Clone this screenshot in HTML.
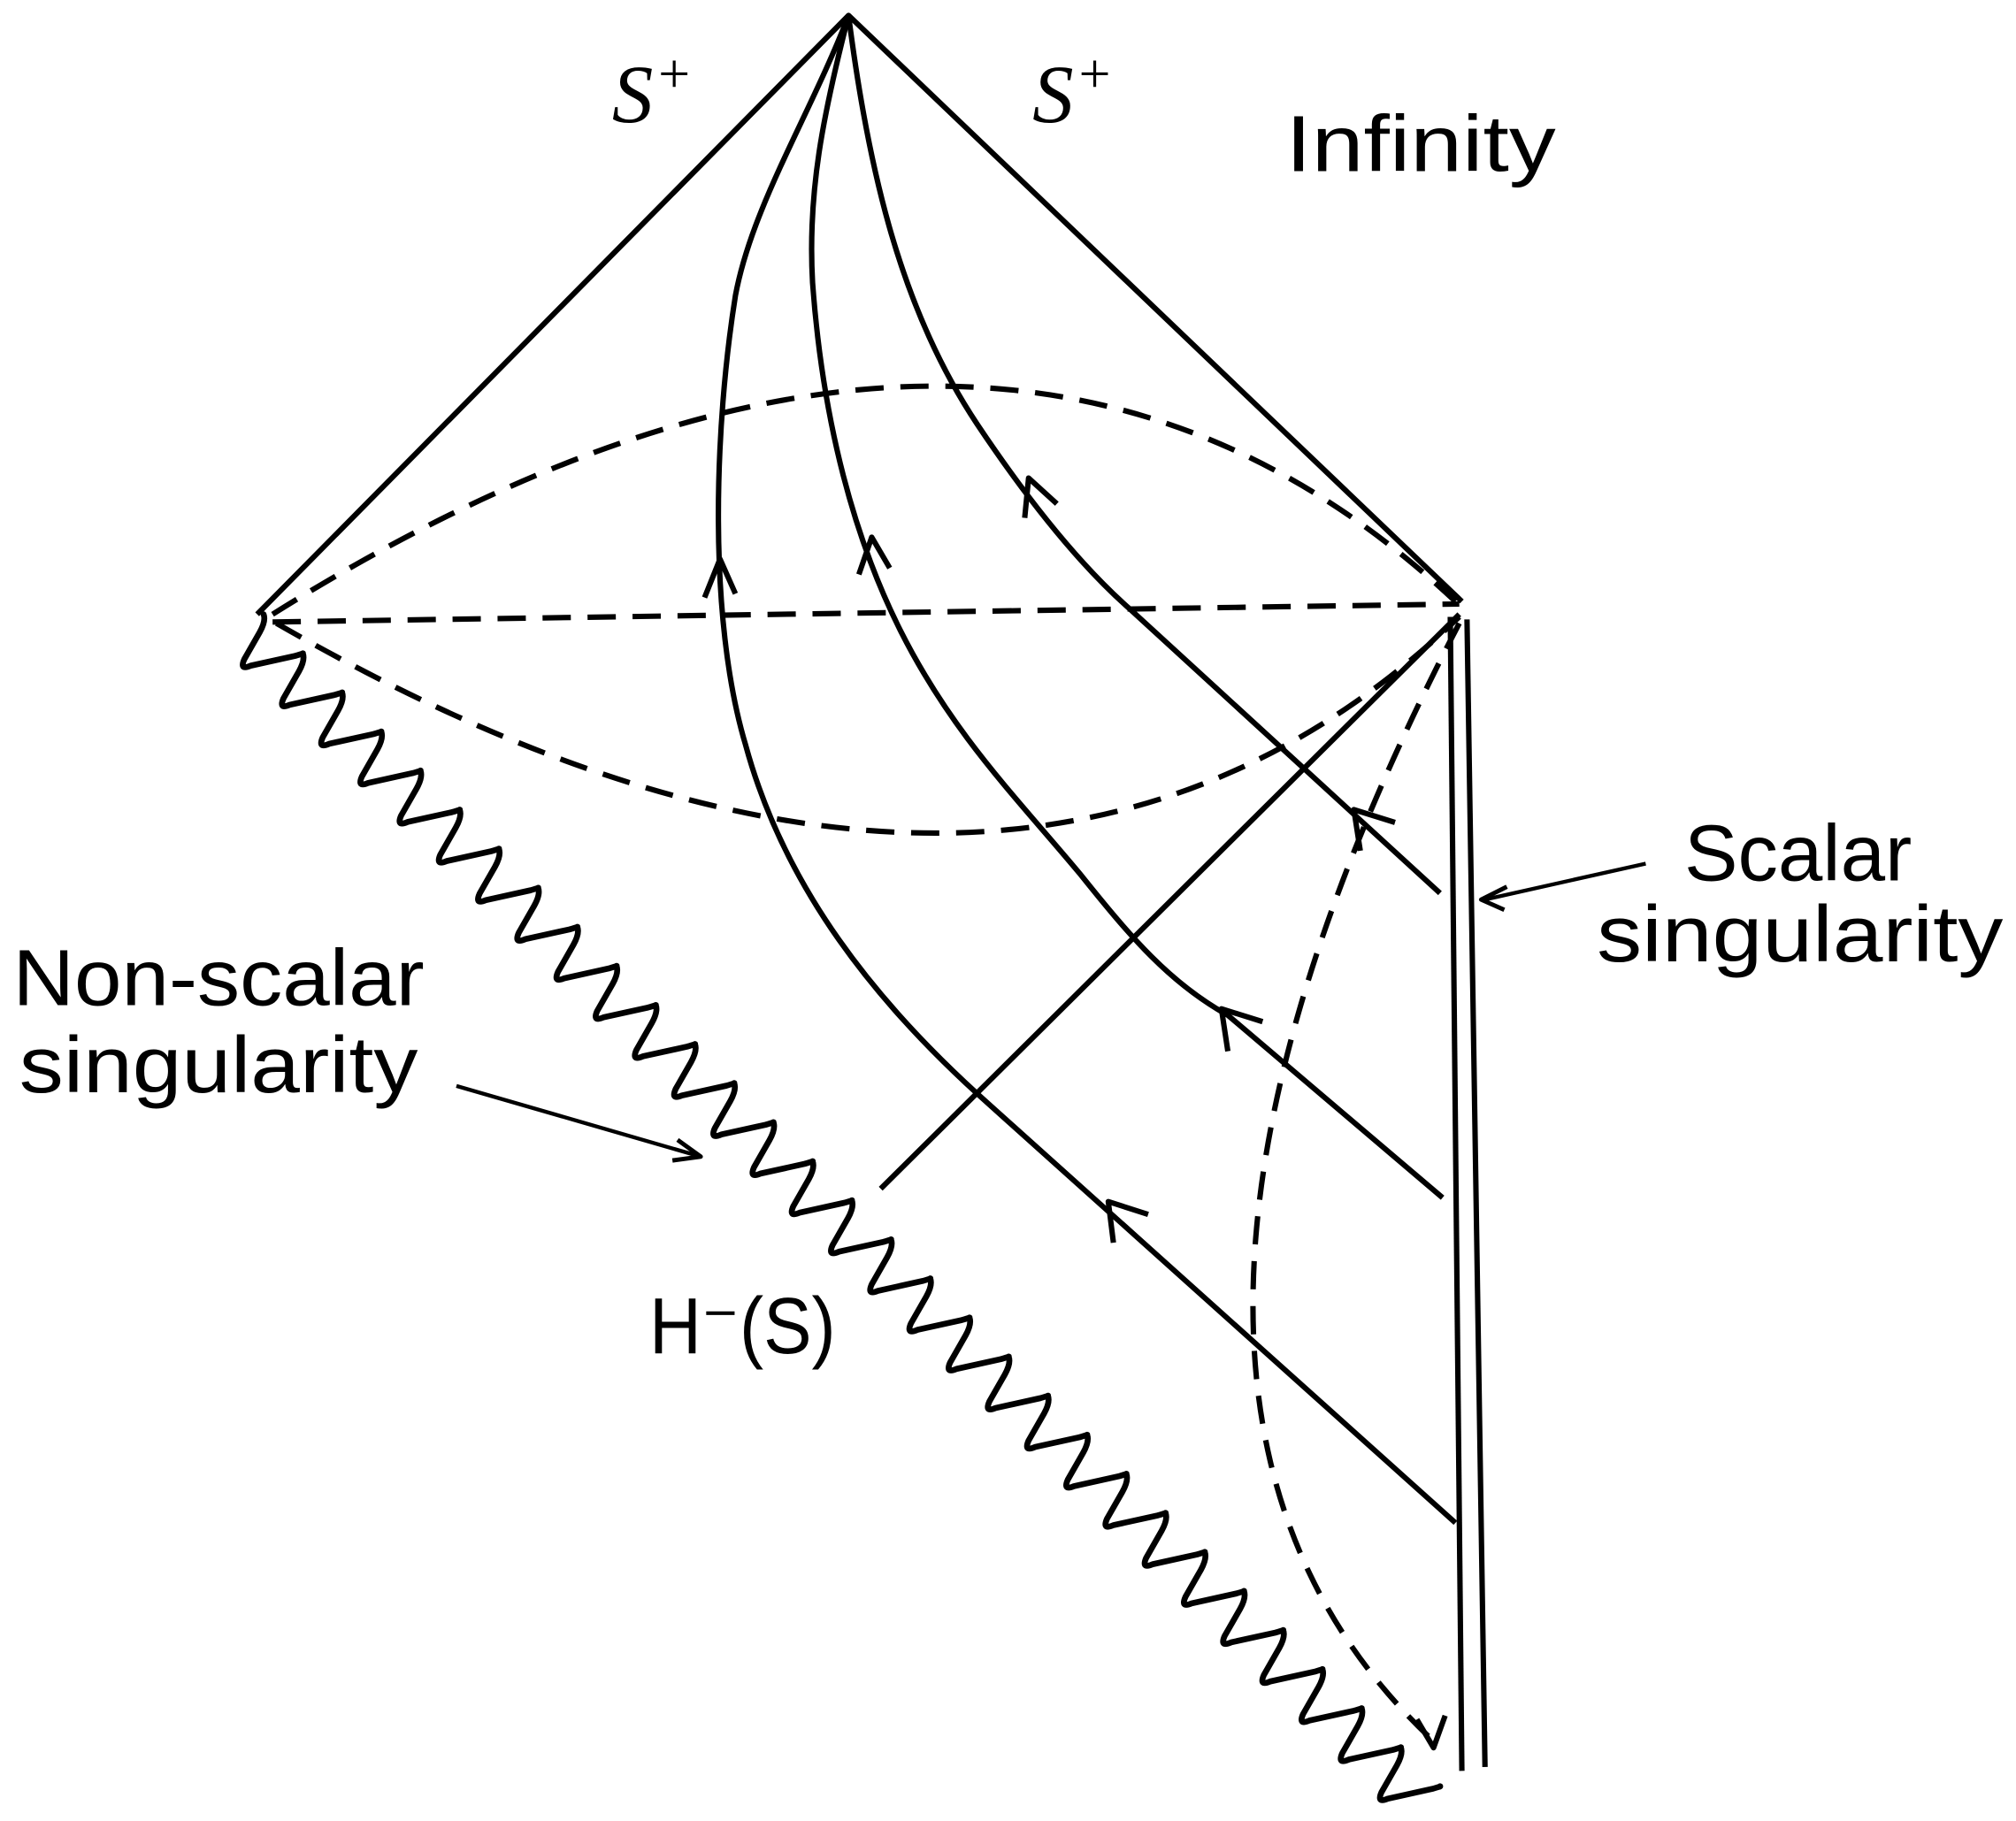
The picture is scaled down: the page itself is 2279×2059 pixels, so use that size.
<!DOCTYPE html>
<html><head><meta charset="utf-8"><style>html,body{margin:0;padding:0;background:#fff}svg{display:block}</style></head>
<body>
<svg width="2279" height="2059" viewBox="0 0 1568 1417" preserveAspectRatio="none" xmlns="http://www.w3.org/2000/svg">
<g fill="none" stroke="#000" stroke-width="4.2" stroke-linejoin="round" stroke-linecap="butt">
<polyline points="200,478 660,12 1137,468"/>
<path id="wave" stroke-linecap="round" stroke-width="4.6"/>
<g stroke-dasharray="22,13" stroke-width="4.2">
<path d="M212,478 Q770,128 1132,468"/>
<path d="M215,485 Q786,814 1135,480"/>
<path d="M212,484 L1135,470"/>
<path d="M1135,485 Q826,1080 1112,1352"/>
</g>
<polyline points="1102,1338 1115,1360 1124,1335"/>
<line x1="685" y1="925" x2="1135" y2="478"/>
<line x1="1128" y1="480" x2="1137" y2="1378"/>
<line x1="1141" y1="482" x2="1155" y2="1375"/>
<path d="M660,12 C630,90 585,160 572,230 C556,330 550,480 580,580 C610,690 680,780 770,860 L1132,1185"/>
<path d="M660,12 C640,90 628,150 632,220 C640,330 665,420 700,490 C740,570 790,620 840,680 C880,730 910,765 955,790 L1122,932"/>
<path d="M660,12 C675,130 700,240 760,330 C800,390 840,440 880,475 L1120,695"/>
<polyline points="548,465 560,435 572,462"/>
<polyline points="668,447 678,418 692,442"/>
<polyline points="797,403 800,372 822,392"/>
<polyline points="1058,662 1053,630 1085,640"/>
<polyline points="955,818 950,785 982,795"/>
<polyline points="866,967 862,935 893,945"/>
<line x1="1280" y1="672" x2="1155" y2="700" stroke-width="3"/>
<polyline points="1172,690 1152,700 1170,708" stroke-width="3.4"/>
<line x1="355" y1="845" x2="545" y2="900" stroke-width="3"/>
<polyline points="527,887 545,900 523,903" stroke-width="3.4"/>
</g>
<g font-family="Liberation Sans, sans-serif" fill="#000">
<text x="1000" y="133" font-size="62" textLength="210" lengthAdjust="spacingAndGlyphs">Infinity</text>
<text x="1310" y="685" font-size="62" textLength="177" lengthAdjust="spacingAndGlyphs">Scalar</text>
<text x="1242" y="748" font-size="62" textLength="316" lengthAdjust="spacingAndGlyphs">singularity</text>
<text x="10" y="782" font-size="62" textLength="320" lengthAdjust="spacingAndGlyphs">Non-scalar</text>
<text x="15" y="850" font-size="62" textLength="310" lengthAdjust="spacingAndGlyphs">singularity</text>
<text x="505" y="1053" font-size="62" textLength="145" lengthAdjust="spacingAndGlyphs">H⁻(S)</text>
</g>
<g font-family="Liberation Serif, serif" font-style="italic" fill="#000">
<text x="476" y="95" font-size="64">S</text><text x="512" y="72" font-size="44" font-style="normal">+</text>
<text x="803" y="95" font-size="64">S</text><text x="839" y="72" font-size="44" font-style="normal">+</text>
</g>
<script>
var x=205,y=478,d="M205,478";
for(var i=0;i<30;i++){
 var bx=x-16,by=y+41,nx=x+30.5,ny=y+30.4;
 d+=" Q"+(x+2)+","+(y+5)+" "+(x-3)+","+(y+14)+" L"+(bx+1)+","+(by-6)+" Q"+(bx-3)+","+(by+3)+" "+(bx+6)+","+(by-1)+" L"+(nx-6)+","+(ny+2)+" Q"+(nx+1)+","+(ny)+" "+nx+","+ny;
 x=nx;y=ny;
}
document.getElementById("wave").setAttribute("d",d);
</script>
</svg>
</body></html>
